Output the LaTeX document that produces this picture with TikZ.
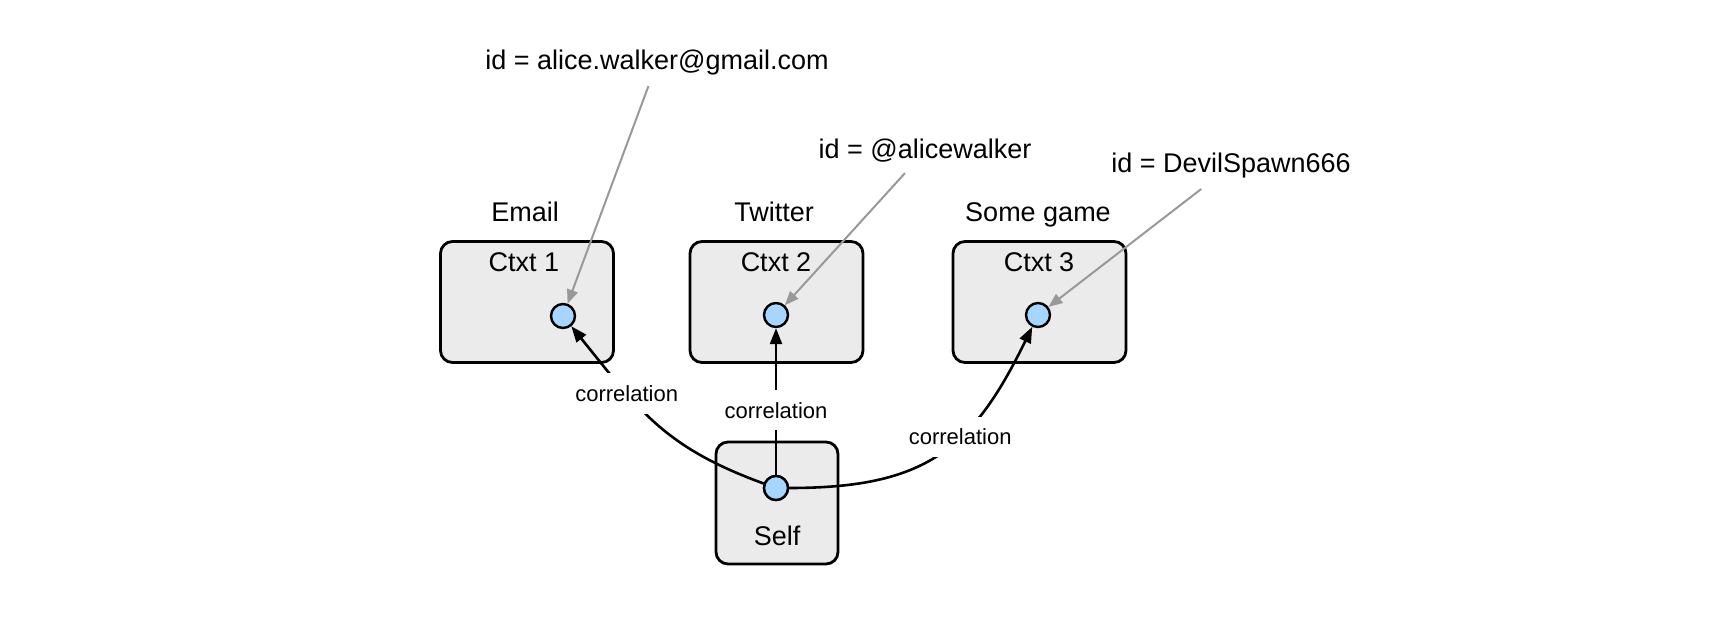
\documentclass[tikz,border=0pt]{standalone}
\usepackage{fontspec}
\setmainfont{Liberation Sans}
\usetikzlibrary{arrows.meta}
\definecolor{boxgray}{HTML}{EBEBEB}
\definecolor{dotblue}{HTML}{A6D6FF}
\definecolor{linegray}{HTML}{999999}
\tikzset{
  ctxbox/.style={draw, line width=1.4pt, rounded corners=6pt, fill=boxgray,
    minimum width=86.5pt, minimum height=60.5pt},
  selfbox/.style={ctxbox, minimum width=61pt, minimum height=61pt},
  iddot/.style={circle, draw, line width=1.2pt, fill=dotblue, minimum size=12pt, inner sep=0pt},
  txt/.style={font=\fontsize{13.5}{16}\selectfont, anchor=base},
  idtxt/.style={txt, inner sep=5pt},
  corr/.style={font=\fontsize{11}{13}\selectfont, fill=white, inner xsep=2pt, inner ysep=6pt},
  link/.style={line width=1.3pt, -{Triangle[length=8pt,width=6pt]}},
  idlink/.style={line width=1pt, draw=linegray, -{Triangle[length=7pt,width=5.5pt,fill=linegray]}}
}
\begin{document}
\begin{tikzpicture}[x=0.5pt,y=0.5pt]
\useasboundingbox (0,0) rectangle (1727,616);

\node[ctxbox] (ctx1) at (527,314) {};
\node[ctxbox] (ctx2) at (776.5,314) {};
\node[ctxbox] (ctx3) at (1039.5,314) {};
\node[selfbox] (self) at (777,113) {};

\node[txt] (ctxname1) at (524,344) {Ctxt 1};
\node[txt] (ctxname2) at (776,344) {Ctxt 2};
\node[txt] (ctxname3) at (1039,344) {Ctxt 3};
\node[txt] (selfname) at (777,71) {Self};

\node[txt] (email) at (525,394) {Email};
\node[txt] (twitter) at (774,394) {Twitter};
\node[txt] (game) at (1038,394) {Some game};

\node[idtxt] (id1) at (657,546) {id = alice.walker@gmail.com};
\node[idtxt] (id2) at (925,457) {id = @alicewalker};
\node[idtxt] (id3) at (1231,443) {id = DevilSpawn666};

\node[iddot] (d1) at (563,300) {};
\node[iddot] (d2) at (776,301) {};
\node[iddot] (d3) at (1038,301) {};
\node[iddot] (sdot) at (776,128) {};

\draw[idlink] (id1) -- (d1);
\draw[idlink] (id2) -- (d2);
\draw[idlink] (id3) -- (d3);

\draw[link] (sdot) to[out=160,in=-51,looseness=1.1] node[corr,pos=0.68]{correlation} (d1);
\draw[link] (sdot) -- node[corr,pos=0.44]{correlation} (d2);
\draw[link] (sdot) to[out=0,in=-116,looseness=1.2] node[corr,pos=0.6]{correlation} (d3);

\node[iddot] at (sdot) {};
\end{tikzpicture}
\end{document}
